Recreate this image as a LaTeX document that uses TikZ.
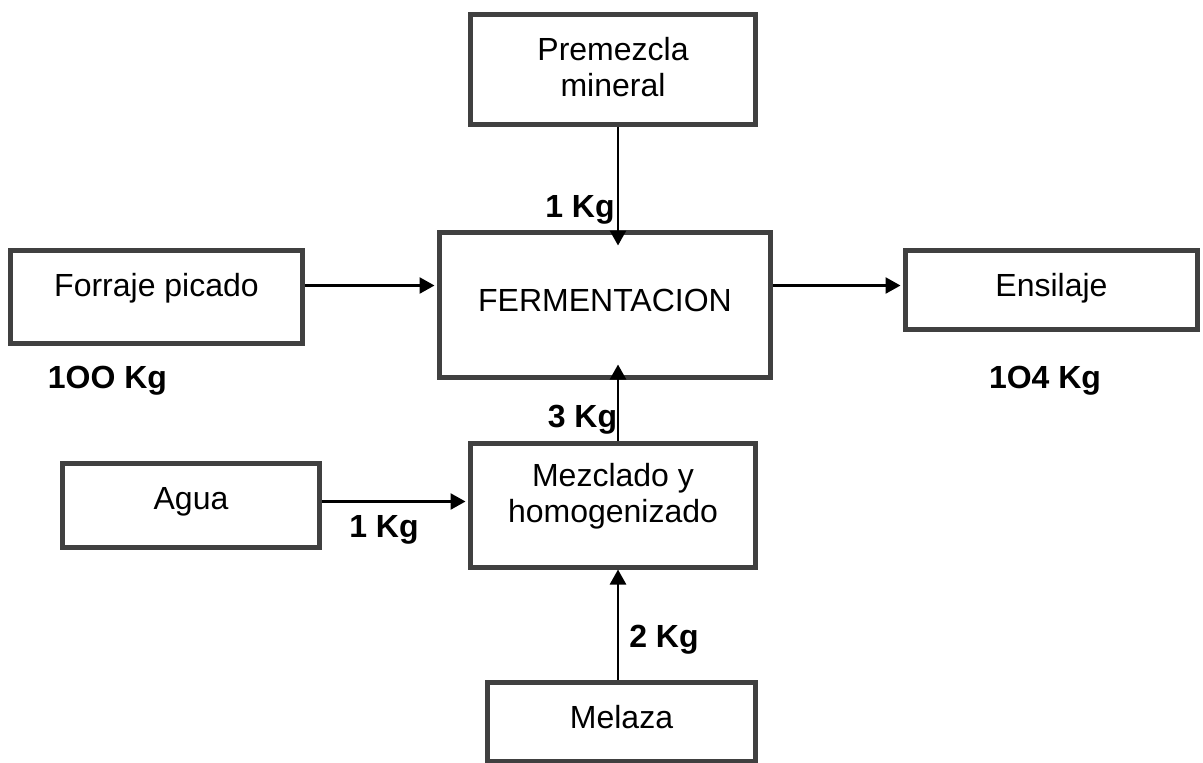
\documentclass[tikz,border=0pt]{standalone}
\usepackage{fontspec}
\setmainfont{Liberation Sans}
\definecolor{BOXgray}{HTML}{404040}
\usetikzlibrary{arrows.meta, positioning}

\begin{document}
\begin{tikzpicture}[x=0.5pt, y=-0.5pt,
      font=\fontsize{16}{18}\selectfont,
      box/.style={draw=BOXgray, line width=2.5pt, inner sep=0pt, anchor=north, align=center, text height=23pt},
      flow/.style={-{Triangle[length=7.5pt, width=8pt]}, line width=1.3pt},
      qty/.style={font=\fontsize{16}{18}\selectfont\bfseries, anchor=base}]
   \useasboundingbox (0,0) rectangle (1203,762);
   \node[box, minimum width=142.5pt, text height=41pt, text depth=14pt] (prem) at (613,11.5) {Premezcla\\mineral};
   \node[box, minimum width=165.5pt, text height=39.5pt, text depth=33pt] (ferm) at (605,229.5) {FERMENTACION};
   \node[box, minimum width=146pt, text depth=23.5pt] (forr) at (156.5,247.5) {Forraje picado};
   \node[box, minimum width=146pt, text depth=16.5pt] (ensi) at (1051.5,247.5) {Ensilaje};
   \node[box, minimum width=128.5pt, text depth=19pt] (agua) at (191,460.5) {Agua};
   \node[box, minimum width=142.5pt, text height=39.5pt, text depth=22.5pt] (mezc) at (613,440.5) {Mezclado y\\homogenizado};
   \node[box, minimum width=134pt, text depth=16.5pt] (mela) at (621.5,679.5) {Melaza};
   % all vertical flows run on one line
   \coordinate (spine) at (618,0);
   \draw[flow, shorten >=-8pt] (prem.south -| spine) -- (ferm.north -| spine);
   \draw[flow, shorten >=1.25pt] ([yshift=5.25pt]forr.base east) -- ([yshift=5.25pt]forr.base east -| ferm.west);
   \draw[flow, shorten >=1.25pt] ([yshift=5.25pt]ensi.base west -| ferm.east) -- ([yshift=5.25pt]ensi.base west);
   \draw[flow, shorten >=-7.5pt] (mezc.north -| spine) -- (ferm.south -| spine);
   \draw[flow, shorten >=1.25pt] ([yshift=3.75pt]agua.base east) -- ([yshift=3.75pt]agua.base east -| mezc.west);
   \draw[flow] (mela.north -| spine) -- (mezc.south -| spine);
   \node[qty] (kgprem) at (580,217.5) {1 Kg};
   \node[qty] (kgforr) at (107.5,388.5) {1OO Kg};
   \node[qty] (kgensi) at (1045,388.5) {1O4 Kg};
   \node[qty] (kgmezc) at (582.5,427.5) {3 Kg};
   \node[qty] (kgagua) at (384,537.5) {1 Kg};
   \node[qty] (kgmela) at (664,647.5) {2 Kg};
\end{tikzpicture}
\end{document}
